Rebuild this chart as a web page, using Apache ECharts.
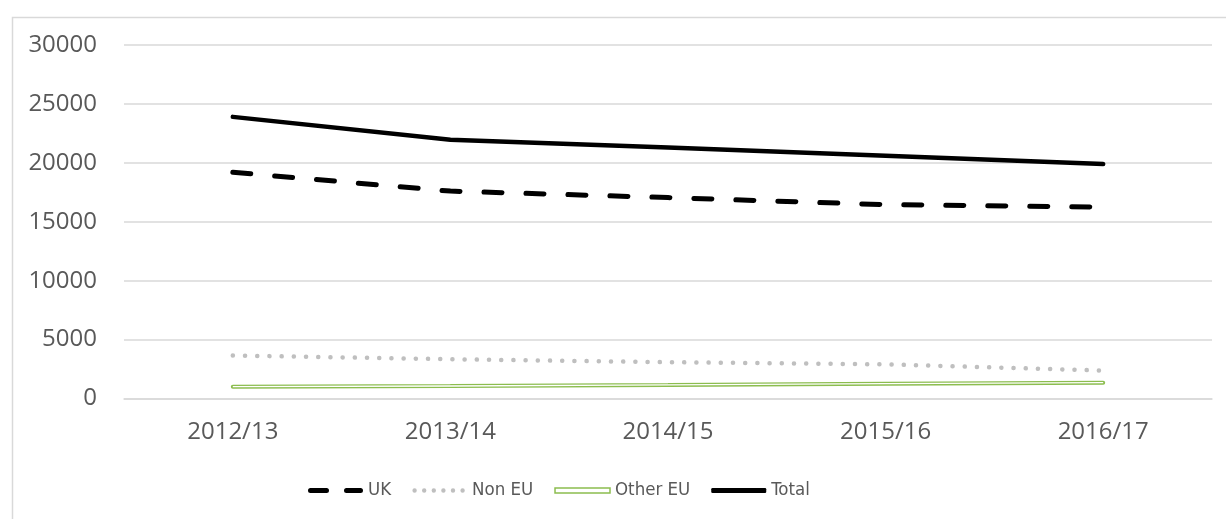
<!DOCTYPE html>
<html>
<head>
<meta charset="utf-8">
<style>
  html, body { margin: 0; padding: 0; background: #ffffff; }
  #chart { width: 1226px; height: 519px; }
</style>
<script src="https://cdn.jsdelivr.net/npm/echarts@6/dist/echarts.min.js"></script>
</head>
<body>
<div id="chart"></div>
<script>
// Academic years on the category axis
const years = ['2012/13', '2013/14', '2014/15', '2015/16', '2016/17'];

// Headcounts per domicile group
const ukValues      = [19200, 17600, 17050, 16450, 16250];
const nonEuValues   = [3650, 3330, 3080, 2900, 2370];
const otherEuValues = [1000, 1060, 1150, 1260, 1340];
const totalValues   = [23900, 21950, 21300, 20600, 19900];

// Value axis ticks
const yMin = 0;
const yMax = 30000;
const yStep = 5000;

const GREEN = '#8cbd4f';
const labelFont = "'Open Sans', 'DejaVu Sans', sans-serif";
const legendFont = "'Liberation Sans Narrow', 'DejaVu Sans Condensed', 'Open Sans', sans-serif";

// Legend keys drawn as paths in a 55 x 5 box
const dashIcon = 'path://M2.5,0 L18.5,0 A2.5,2.5 0 0 1 18.5,5 L2.5,5 A2.5,2.5 0 0 1 2.5,0 Z ' +
                 'M38.5,0 L52.5,0 A2.5,2.5 0 0 1 52.5,5 L38.5,5 A2.5,2.5 0 0 1 38.5,0 Z';
let dotIcon = 'path://';
for (let i = 0; i < 6; i++) {
  const cx = 2.5 + i * 9.6;
  dotIcon += 'M' + (cx - 2.2) + ',2.5 A2.2,2.2 0 1 0 ' + (cx + 2.2) + ',2.5 A2.2,2.2 0 1 0 ' + (cx - 2.2) + ',2.5 Z ';
}
// bounding points keep the dots from being stretched
dotIcon += 'M0,0 L0.01,0 Z M55,5 L54.99,5 Z';

const chart = echarts.init(document.getElementById('chart'), null, { renderer: 'canvas' });

chart.setOption({
  animation: false,
  backgroundColor: '#ffffff',
  graphic: [{
    type: 'rect',
    left: 10, top: 15,
    shape: { width: 1400, height: 700 },
    style: { fill: 'none', stroke: '#d9d9d9', lineWidth: 1.5 },
    silent: true,
    z: -1
  }],
  grid: { left: 124, right: 14, top: 45, bottom: 120.5, containLabel: false },
  legend: {
    left: 308,
    top: 481,
    padding: 0,
    itemWidth: 55,
    itemHeight: 5,
    itemGap: 21,
    textStyle: { fontFamily: legendFont, fontSize: 18.5, color: '#595959' },
    data: [
      { name: 'UK', icon: dashIcon, itemStyle: { color: '#000000' } },
      { name: 'Non EU', icon: dotIcon, itemStyle: { color: '#bfbfbf' } },
      { name: 'Other EU', icon: 'rect', itemStyle: { color: '#ffffff', borderColor: GREEN, borderWidth: 1.5 } },
      { name: 'Total', icon: 'roundRect', itemStyle: { color: '#000000' } }
    ]
  },
  xAxis: {
    type: 'category',
    data: years,
    boundaryGap: true,
    axisLine: { show: true, lineStyle: { color: '#d9d9d9', width: 1.5 } },
    axisTick: { show: false },
    axisLabel: { color: '#595959', fontFamily: labelFont, fontSize: 24, margin: 22 }
  },
  yAxis: {
    type: 'value',
    min: yMin,
    max: yMax,
    interval: yStep,
    axisLine: { show: false },
    axisTick: { show: false },
    splitLine: { lineStyle: { color: '#d9d9d9', width: 1.5 } },
    axisLabel: {
      color: '#595959', fontFamily: labelFont, fontSize: 24, margin: 27,
      formatter: function (v) { return String(v); }
    }
  },
  series: [
    {
      name: 'UK',
      type: 'line',
      data: ukValues,
      symbol: 'none',
      lineStyle: { color: '#000000', width: 5, type: [18, 24], cap: 'round' },
      itemStyle: { color: '#000000' },
      z: 4
    },
    {
      name: 'Non EU',
      type: 'line',
      data: nonEuValues,
      symbol: 'none',
      lineStyle: { color: '#bfbfbf', width: 4.5, type: [0.1, 12.1], cap: 'round' },
      itemStyle: { color: '#bfbfbf' },
      z: 3
    },
    {
      name: 'Other EU',
      type: 'line',
      data: otherEuValues,
      symbol: 'none',
      lineStyle: { color: GREEN, width: 4, cap: 'round' },
      itemStyle: { color: GREEN },
      z: 3
    },
    {
      // inner white stroke that turns the Other EU line into a double line
      name: 'Other EU inner',
      type: 'line',
      data: otherEuValues,
      symbol: 'none',
      lineStyle: { color: '#ffffff', width: 1.3 },
      silent: true,
      z: 4
    },
    {
      name: 'Total',
      type: 'line',
      data: totalValues,
      symbol: 'none',
      lineStyle: { color: '#000000', width: 4.5, cap: 'round' },
      itemStyle: { color: '#000000' },
      z: 5
    }
  ]
});
</script>
</body>
</html>
